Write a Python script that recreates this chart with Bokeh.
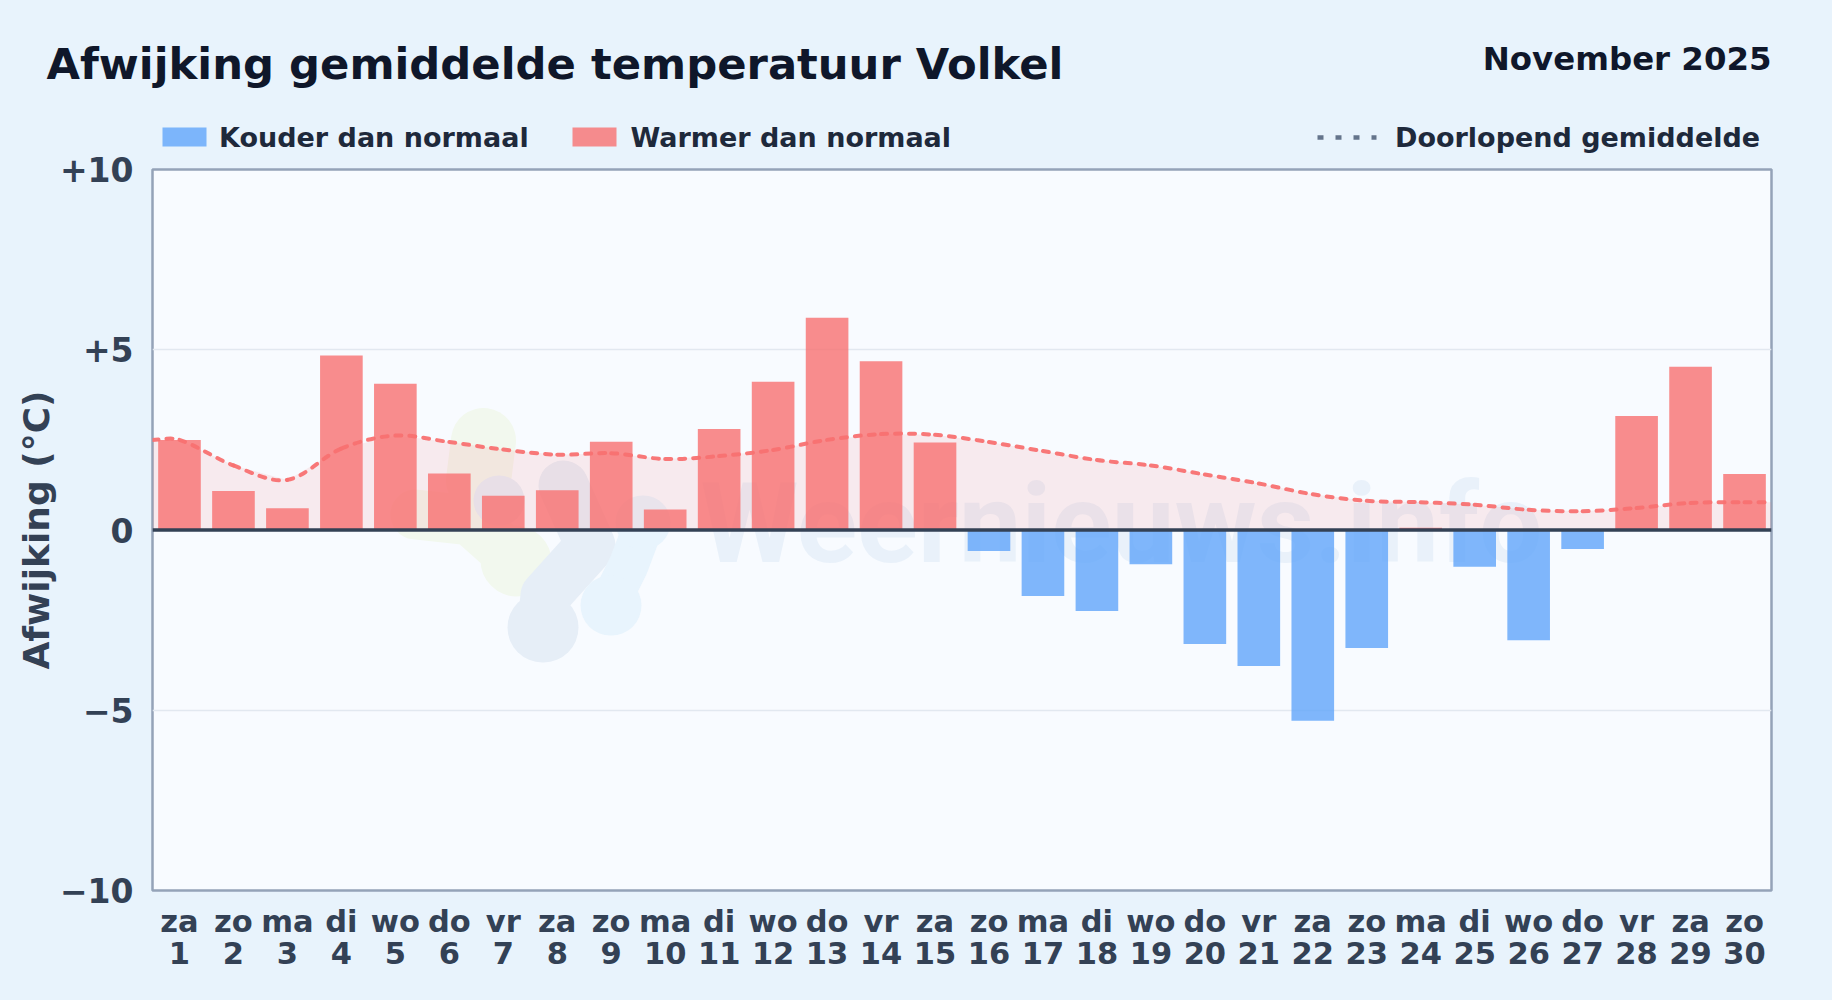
from bokeh.plotting import figure
from bokeh.layouts import column
from bokeh.models import LinearAxis, Span, FixedTicker, Range1d
from bokeh.embed import file_html
from bokeh.resources import INLINE
from bokeh.core.properties import value

weekdays = ["za","zo","ma","di","wo","do","vr","za","zo","ma","di","wo","do","vr","za",
            "zo","ma","di","wo","do","vr","za","zo","ma","di","wo","do","vr","za","zo"]
days = list(range(1, 31))
deviation = [2.50,1.08,0.60,4.84,4.06,1.57,0.95,1.10,2.45,0.57,2.80,4.11,5.89,4.68,2.43,
             -0.58,-1.83,-2.25,-0.95,-3.16,-3.77,-5.29,-3.27,0.06,-1.02,-3.06,-0.53,3.16,4.53,1.55]
running_mean = [2.50,1.79,1.39,2.26,2.62,2.44,2.23,2.09,2.13,1.97,2.05,2.22,2.50,2.66,2.64,
                2.44,2.19,1.94,1.79,1.54,1.29,0.99,0.81,0.77,0.70,0.56,0.52,0.61,0.75,0.77]
y_ticks = [-10,-5,0,5,10]
y_tick_labels = ["\u221210","\u22125","0","+5","+10"]

BG = "#e8f3fc"
PLOT_BG = "#f8fbff"
FONT = "DejaVu Sans"
W, H = 1832, 1000
HEAD = 154
OVERLAP = 10
L, T, FW, FH = 152, 169, 1619, 721

# ---------- header strip: titles and legend ----------
h = figure(width=W, height=HEAD, output_backend="svg", toolbar_location=None,
           x_range=Range1d(0, W), y_range=Range1d(HEAD, 0), x_axis_type=None, y_axis_type=None,
           background_fill_color=BG, border_fill_color=BG, outline_line_color=None,
           min_border_left=0, min_border_right=0, min_border_top=0, min_border_bottom=0,
           frame_align=False)
h.grid.visible = False
def head_text(x, y, text, size, color, align="left"):
    h.text(x=[x], y=[y - 0.35 * size], text=[text], text_font=value(FONT), text_font_style="bold",
           text_font_size=value(f"{size}px"), text_color=color, text_align=align, text_baseline="alphabetic")
head_text(46, 79, "Afwijking gemiddelde temperatuur Volkel", 43.3, "#0f172a")
head_text(1771, 69.5, "November 2025", 32.4, "#0f172a", "right")
h.quad(left=[162], right=[206], top=[127], bottom=[146], fill_color="#60a5fa", fill_alpha=0.8, line_color=None)
h.quad(left=[572], right=[616], top=[127], bottom=[146], fill_color="#f87171", fill_alpha=0.8, line_color=None)
h.line(x=[1317, 1376], y=[137, 137], line_color="#64748b", line_width=4.5, line_dash="6 12")
head_text(218.5, 146, "Kouder dan normaal", 27, "#1e293b")
head_text(630, 146, "Warmer dan normaal", 27, "#1e293b")
head_text(1394.5, 146, "Doorlopend gemiddelde", 27, "#1e293b")

# ---------- main chart ----------
p = figure(width=W, height=H-HEAD+OVERLAP, output_backend="svg", toolbar_location=None,
           x_range=Range1d(0.5, 30.5), y_range=Range1d(-10, 10),
           background_fill_color=PLOT_BG, border_fill_color=BG, border_fill_alpha=0,
           min_border_left=L, min_border_top=T-HEAD+OVERLAP, min_border_right=W-L-FW, min_border_bottom=H-T-FH,
           outline_line_color="#94a3b8", outline_line_width=2.5, frame_align=False,
           margin=(-OVERLAP, 0, 0, 0))

p.xaxis.ticker = FixedTicker(ticks=days)
p.xaxis.major_label_overrides = dict(zip(days, weekdays))
p.add_layout(LinearAxis(ticker=FixedTicker(ticks=days),
                        major_label_overrides={d: str(d) for d in days}), "below")
p.yaxis.ticker = FixedTicker(ticks=y_ticks)
p.yaxis.major_label_overrides = dict(zip(y_ticks, y_tick_labels))
for ax in (*p.xaxis, p.yaxis[0]):
    ax.axis_line_color = None
    ax.major_tick_line_color = None
    ax.minor_tick_line_color = None
    ax.major_label_text_font = FONT
    ax.major_label_text_font_style = "bold"
    ax.major_label_text_color = "#334155"
p.xaxis.major_label_text_font_size = "30.5px"
p.xaxis[0].major_label_standoff = 7
p.xaxis[1].major_label_standoff = -6
p.yaxis.major_label_text_font_size = "33px"
p.yaxis.major_label_standoff = 13
p.yaxis.axis_label = "Afwijking (\u00b0C)"
p.yaxis.axis_label_text_font = FONT
p.yaxis.axis_label_text_font_style = "bold"
p.yaxis.axis_label_text_font_size = "36px"
p.yaxis.axis_label_text_color = "#334155"
p.yaxis.axis_label_standoff = 0
p.xgrid.visible = False
p.ygrid.ticker = FixedTicker(ticks=[-5, 5])
p.ygrid.grid_line_color = "#e2e8f0"
p.ygrid.grid_line_width = 1.5

def dx(px): return 0.5 + (px - L) / FW * 30
def dy(py): return 10 - (py - T) / FH * 20

# watermark
def blob(points, color, width):
    p.line([dx(a) for a, _ in points], [dy(b) for _, b in points], line_color=color,
           line_width=width, line_cap="round", line_join="round")
GREEN, GRAY, SKY = "#f2f8ee", "#e6eef7", "#e8f4fd"
blob([(483, 440), (478, 480)], GREEN, 65)
blob([(415, 514), (470, 520), (515, 560)], GREEN, 50)
blob([(515, 560), (516, 561)], GREEN, 70)
blob([(498, 500), (499, 500)], GRAY, 50)
blob([(563, 485), (590, 545), (545, 595), (542, 625)], GRAY, 50)
blob([(542, 627), (543, 627)], GRAY, 70)
blob([(645, 520), (628, 565), (608, 605)], SKY, 40)
blob([(642, 522), (643, 522)], SKY, 54)
blob([(610, 605), (611, 605)], SKY, 60)
p.text(x=[dx(700)], y=[dy(523)], text=["Weernieuws.info"], text_font=value("Roboto"),
       text_font_size=value("112px"), text_font_style="bold", text_color="#3b82c4", text_alpha=0.08,
       text_baseline="alphabetic")

# running mean: area and segmented curve
mx = [0.5] + days + [30.5]
my = [running_mean[0]] + running_mean + [running_mean[-1]]
p.varea(x=mx, y1=[0]*len(mx), y2=my, fill_color="#f87171", fill_alpha=0.12)

cold = [(d, v) for d, v in zip(days, deviation) if v < 0]
warm = [(d, v) for d, v in zip(days, deviation) if v >= 0]
p.vbar(x=[a for a, _ in cold], top=[b for _, b in cold], bottom=0, width=0.79,
       fill_color="#60a5fa", fill_alpha=0.8, line_color=None)
p.vbar(x=[a for a, _ in warm], top=[b for _, b in warm], bottom=0, width=0.79,
       fill_color="#f87171", fill_alpha=0.8, line_color=None)

n = len(mx)
slope = [(my[min(i+1, n-1)] - my[max(i-1, 0)]) / (mx[min(i+1, n-1)] - mx[max(i-1, 0)]) for i in range(n)]
seg = range(n - 1)
p.bezier(x0=[mx[i] for i in seg], y0=[my[i] for i in seg], x1=[mx[i+1] for i in seg], y1=[my[i+1] for i in seg],
         cx0=[mx[i] + (mx[i+1]-mx[i])/3 for i in seg], cy0=[my[i] + slope[i]*(mx[i+1]-mx[i])/3 for i in seg],
         cx1=[mx[i+1] - (mx[i+1]-mx[i])/3 for i in seg], cy1=[my[i+1] - slope[i+1]*(mx[i+1]-mx[i])/3 for i in seg],
         line_color="#f87171", line_width=4, line_dash="6 8", line_cap="round", line_alpha=0.95)

p.add_layout(Span(location=0, dimension="width", line_color="#334155", line_width=3.5))

page = column(h, p, spacing=0)
html = file_html(page, INLINE)
html = html.replace("</head>", f"<style>html,body{{background:{BG};}}</style></head>", 1)
open("out.html", "w").write(html)
